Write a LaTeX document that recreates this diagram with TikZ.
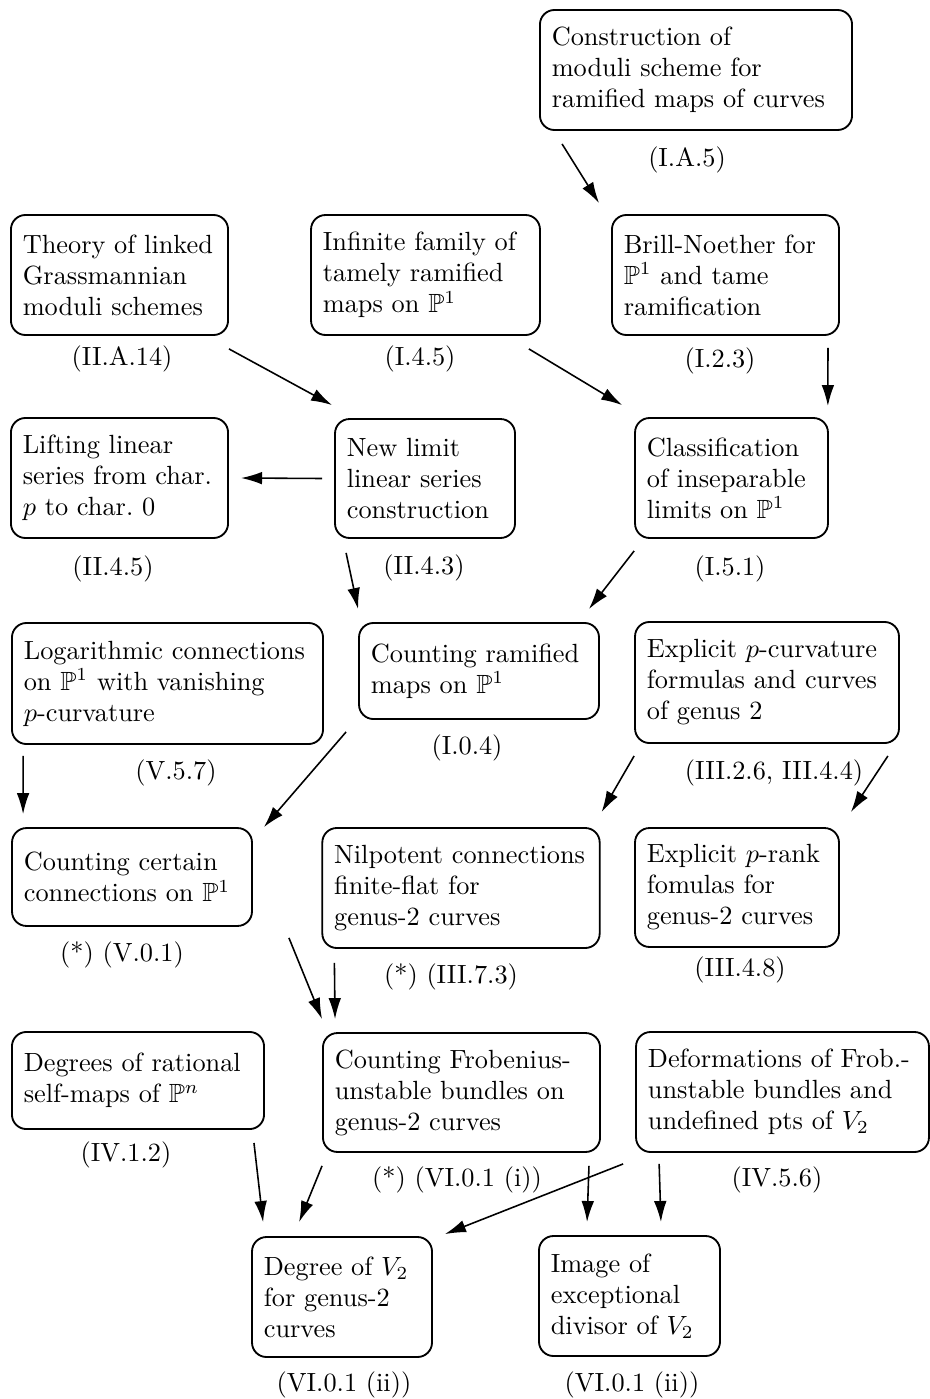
\documentclass[tikz,border=0pt]{standalone}
\usepackage{amsmath,amssymb}
\usetikzlibrary{arrows.meta}

\begin{document}
\begin{tikzpicture}[x=0.38pt,y=-0.38pt]
        \tikzset{box/.style={draw, rounded corners=5.5pt, line width=0.7pt, align=left, inner xsep=4.5pt, inner ysep=3pt, font=\fontsize{10pt}{11.8pt}\selectfont},
                refno/.style={font=\fontsize{10pt}{11.8pt}\selectfont, inner sep=0pt},
                arr/.style={-{Latex[length=8pt, width=4.8pt]}, line width=0.6pt}}
        \useasboundingbox (0,0) rectangle (930,1399);

        % row 0
        \node[box, text width=109.6pt, minimum height=45.6pt] (cons) at (696,70) {Construction of\\ moduli scheme for\\ ramified maps of curves};
        \node[refno] at (687,160) {(I.A.5)};

        % row 1
        \node[box, text width=73.5pt, minimum height=45.6pt] (theory) at (119.5,275) {Theory of linked\\ Grassmannian\\ moduli schemes};
        \node[box, text width=78pt, minimum height=45.6pt] (inf) at (425.5,275) {Infinite family of\\ tamely ramified\\ maps on $\mathbb{P}^1$};
        \node[box, text width=77.3pt, minimum height=45.6pt] (brill) at (725.5,275) {Brill-Noether for\\ $\mathbb{P}^1$ and tame\\ ramification};
        \node[refno] at (122,359) {(II.A.14)};
        \node[refno] at (420,359) {(I.4.5)};
        \node[refno] at (720,361) {(I.2.3)};

        % row 2
        \node[box, text width=73.5pt, minimum height=45.6pt] (lift) at (119.5,478) {Lifting linear\\ series from char.\\ $p$ to char.~0};
        \node[box, text width=59.4pt, minimum height=45.2pt] (newlim) at (425,478.5) {New limit\\ linear series\\ construction};
        \node[box, text width=64.3pt, minimum height=45.6pt] (cls) at (731.5,478) {Classification\\ of inseparable\\ limits on $\mathbb{P}^1$};
        \node[refno] at (113,569) {(II.4.5)};
        \node[refno] at (424,568) {(II.4.3)};
        \node[refno] at (730,569) {(I.5.1)};

        % row 3
        \node[box, text width=109.2pt, minimum height=46pt] (log) at (167.5,683.5) {Logarithmic connections\\ on $\mathbb{P}^1$ with vanishing\\ $p$-curvature};
        \node[box, text width=82.2pt, minimum height=36.5pt] (cram) at (479,671) {Counting ramified\\ maps on $\mathbb{P}^1$};
        \node[box, text width=91.3pt, minimum height=46pt] (expc) at (767,682.5) {Explicit $p$-curvature\\ formulas and curves\\ of genus 2};
        \node[refno] at (176,773) {(V.5.7)};
        \node[refno] at (467,748) {(I.0.4)};
        \node[refno] at (774,773) {(III.2.6, III.4.4)};

        % row 4
        \node[box, text width=82.2pt, minimum height=37.2pt] (ccert) at (132,877) {Counting certain\\ connections on $\mathbb{P}^1$};
        \node[box, text width=96.4pt, minimum height=45.6pt] (nil) at (461,888) {Nilpotent connections\\ finite-flat for\\ genus-2 curves};
        \node[box, text width=68.5pt, minimum height=45.2pt] (prank) at (737,887.5) {Explicit $p$-rank\\ fomulas for\\ genus-2 curves};
        \node[refno] at (122,955) {(*) (V.0.1)};
        \node[refno] at (451,977) {(*) (III.7.3)};
        \node[refno] at (740,970) {(III.4.8)};

        % row 5
        \node[box, text width=86.8pt, minimum height=36.9pt] (deg) at (138,1080.5) {Degrees of rational\\ self-maps of $\mathbb{P}^n$};
        \node[box, text width=96.3pt, minimum height=45.2pt] (cfrob) at (461.5,1092.5) {Counting Frobenius-\\ unstable bundles on\\ genus-2 curves};
        \node[box, text width=102.3pt, minimum height=45.6pt] (defo) at (782.5,1092) {Deformations of Frob.-\\ unstable bundles and\\ undefined pts of $V_2$};
        \node[refno] at (126,1155) {(IV.1.2)};
        \node[refno] at (457,1180) {(*) (VI.0.1 (i))};
        \node[refno] at (777,1180) {(IV.5.6)};

        % row 6
        \node[box, text width=59.4pt, minimum height=45.6pt] (degv) at (342,1297) {Degree of $V_2$\\ for genus-2\\ curves};
        \node[box, text width=59.8pt, minimum height=45.6pt] (img) at (629.5,1296) {Image of\\ exceptional\\ divisor of $V_2$};
        \node[refno] at (344,1385) {(VI.0.1 (ii))};
        \node[refno] at (632,1385) {(VI.0.1 (ii))};

        % implications
        \draw[arr] ([shift={(23,13)}]cons.south west) -- ([shift={(-12,-11)}]brill.north west);
        \draw[arr] ([shift={(0,13)}]theory.south east) -- ([shift={(-2,-13)}]newlim.north west);
        \draw[arr] ([shift={(-12,13)}]inf.south east) -- ([shift={(-12,-12)}]cls.north west);
        \draw[arr] ([shift={(-12,12)}]brill.south east) -- ([shift={(-1,-11)}]cls.north east);
        \draw[arr] ([shift={(-12,0)}]newlim.west) -- ([shift={(12,0)}]lift.east);
        \draw[arr] ([shift={(12,14)}]newlim.south west) -- ([shift={(0,-13)}]cram.north west);
        \draw[arr] ([shift={(0,12)}]cls.south west) -- ([shift={(-11,-13)}]cram.north east);
        \draw[arr] ([shift={(12,11)}]log.south west) -- ([shift={(12,-13)}]ccert.north west);
        \draw[arr] ([shift={(-12,12)}]cram.south west) -- ([shift={(11,0)}]ccert.north east);
        \draw[arr] ([shift={(0,12)}]expc.south west) -- ([shift={(1,-15)}]nil.north east);
        \draw[arr] ([shift={(-12,12)}]expc.south east) -- ([shift={(11,-15)}]prank.north east);
        \draw[arr] ([shift={(36,11)}]ccert.south east) -- ([shift={(0,-13)}]cfrob.north west);
        \draw[arr] ([shift={(13,14)}]nil.south west) -- ([shift={(13,-13)}]cfrob.north west);
        \draw[arr] ([shift={(-11,13)}]deg.south east) -- ([shift={(12,-14)}]degv.north west);
        \draw[arr] ([shift={(0,13)}]cfrob.south west) -- ([shift={(48,-14)}]degv.north west);
        \draw[arr] ([shift={(-12,11)}]defo.south west) -- ([shift={(12,-2)}]degv.north east);
        \draw[arr] ([shift={(-12,13)}]cfrob.south east) -- ([shift={(49,-13)}]img.north west);
        \draw[arr] ([shift={(24,11)}]defo.south west) -- ([shift={(-60,-13)}]img.north east);
\end{tikzpicture}
\end{document}
